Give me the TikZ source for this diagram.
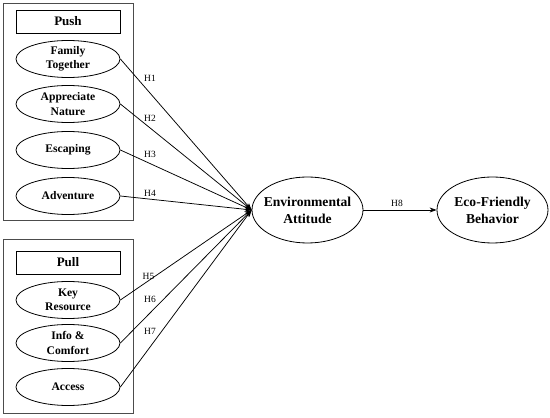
\documentclass[tikz,border=0pt]{standalone}
\usepackage{fontspec}
\setmainfont{Liberation Serif}
\usetikzlibrary{shapes.geometric,arrows.meta}
\begin{document}
\begin{tikzpicture}[x=1pt,y=1pt,
  el/.style={draw,ellipse,line width=0.8pt,minimum width=104pt,minimum height=37pt,inner sep=0pt,align=center,font=\bfseries\fontsize{11.6}{14.5}\selectfont},
  bigel/.style={draw,ellipse,line width=0.8pt,minimum width=111pt,minimum height=66pt,inner xsep=-8pt,inner ysep=0pt,align=center,font=\bfseries\fontsize{13.6}{17}\selectfont},
  titlebox/.style={draw,line width=0.8pt,minimum width=104pt,minimum height=23pt,inner sep=0pt,font=\bfseries\fontsize{13}{15}\selectfont},
  group/.style={draw=black!70,line width=0.8pt},
  hl/.style={font=\fontsize{9.5}{11}\selectfont},
  arr/.style={-{Stealth[length=7pt,width=5pt]},line width=0.75pt}]
\useasboundingbox (0,0) rectangle (550,418);
% groups
\draw[group] (3,198) rectangle (133,415);
\draw[group] (3,5) rectangle (133,179);
\node[titlebox] (push) at (68,396.5) {Push};
\node[titlebox] (pull) at (68,155.5) {Pull};
% push ellipses
\node[el] (fam) at (68,359) {Family\\Together};
\node[el] (app) at (68,314) {Appreciate\\Nature};
\node[el] (esc) at (68,268) {Escaping};
\node[el] (adv) at (68,222) {Adventure};
% pull ellipses
\node[el] (key) at (68,118) {Key\\Resource};
\node[el] (inf) at (68,75) {Info \&\\Comfort};
\node[el] (acc) at (68,31) {Access};
% outcomes
\node[bigel] (env) at (307.5,208) {Environmental\\Attitude};
\node[bigel] (eco) at (492.5,208) {Eco-Friendly\\Behavior};
% arrows
\foreach \n in {fam,app,esc,adv,key,inf,acc}
  \draw[arr] (\n.east) -- (env.west);
\draw[arr] (env.east) -- (eco.west);
% labels
\node[hl] (h1) at (150,340) {H1};
\node[hl] (h2) at (150,300) {H2};
\node[hl] (h3) at (150,264) {H3};
\node[hl] (h4) at (150,225) {H4};
\node[hl] (h5) at (148.5,142) {H5};
\node[hl] (h6) at (150,119) {H6};
\node[hl] (h7) at (150,87) {H7};
\node[hl] (h8) at (397,215) {H8};
\end{tikzpicture}
\end{document}
